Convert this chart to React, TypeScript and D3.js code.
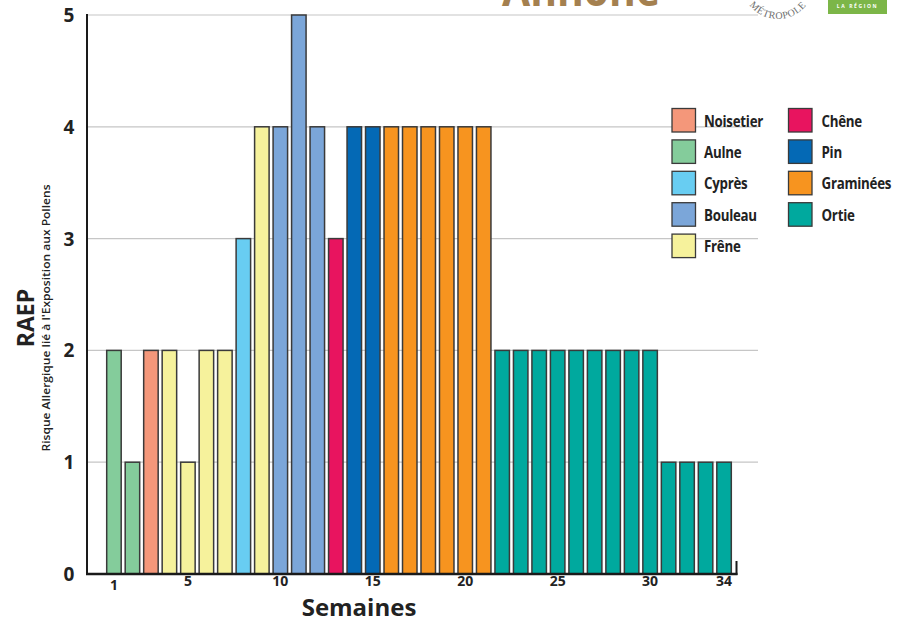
import React from "react";
import * as d3 from "d3";

const weeks = d3.range(1, 35);
const values = [2, 1, 2, 2, 1, 2, 2, 3, 4, 4, 5, 4, 3, 4, 4, 4, 4, 4, 4, 4, 4, 2, 2, 2, 2, 2, 2, 2, 2, 2, 1, 1, 1, 1];
const species = [
  "Aulne", "Aulne", "Noisetier", "Frêne", "Frêne", "Frêne", "Frêne", "Cyprès", "Frêne",
  "Bouleau", "Bouleau", "Bouleau", "Chêne", "Pin", "Pin",
  "Graminées", "Graminées", "Graminées", "Graminées", "Graminées", "Graminées",
  "Ortie", "Ortie", "Ortie", "Ortie", "Ortie", "Ortie", "Ortie", "Ortie", "Ortie",
  "Ortie", "Ortie", "Ortie", "Ortie",
];
const legendCol1 = ["Noisetier", "Aulne", "Cyprès", "Bouleau", "Frêne"];
const legendCol2 = ["Chêne", "Pin", "Graminées", "Ortie"];
const speciesColors: Record<string, string> = {
  Noisetier: "#f4977a",
  Aulne: "#84cc9b",
  Cyprès: "#68cdf2",
  Bouleau: "#7ba6d9",
  Frêne: "#f6f29c",
  Chêne: "#e8145f",
  Pin: "#0469b5",
  Graminées: "#f7941f",
  Ortie: "#00a99e",
};
const xTicks = [1, 5, 10, 15, 20, 25, 30, 34];
const yTicks = [0, 1, 2, 3, 4, 5];

const FONT = "'Open Sans', 'DejaVu Sans', sans-serif";

export default function App() {
  const x = d3.scaleBand<number>().domain(weeks).range([106.7, 731.3]).paddingInner(0.216).paddingOuter(0);
  const y = d3.scaleLinear().domain([0, 5]).range([574, 15]);
  const bw = x.bandwidth();

  return (
    <svg width={898} height={623} style={{ position: "absolute", left: 0, top: 0, background: "#fff" }} fontFamily={FONT}>
      <defs>
        <clipPath id="topclip">
          <rect x={0} y={0} width={898} height={6.5} />
        </clipPath>
        <path id="arcpath" d="M 742,-17 A 36 36 0 0 0 814,-17" />
      </defs>
      <rect x={0} y={0} width={898} height={623} fill="#fff" />

      {/* header fragments */}
      <g clipPath="url(#topclip)">
        <text x={502} y={5.5} fontSize={44} fontWeight={700} fill="#a4804f" textLength={158} lengthAdjust="spacingAndGlyphs">Annone</text>
      </g>
      <text fontSize={10} fill="#6e6e6e" letterSpacing={0.6} fontFamily="'Liberation Serif', serif">
        <textPath href="#arcpath" startOffset="50%" textAnchor="middle">MÉTROPOLE</textPath>
      </text>
      <rect x={828} y={-6} width={59} height={20} fill="#7cb648" />
      <text x={857.5} y={8} fontSize={5} fontWeight={700} fill="#fff" textAnchor="middle" letterSpacing={1.6}>LA RÉGION</text>

      {/* gridlines */}
      {yTicks.filter((t) => t > 0).map((t) => (
        <line key={t} x1={88} x2={758} y1={y(t)} y2={y(t)} stroke="#c6c6c6" strokeWidth={1.2} />
      ))}

      {/* bars */}
      {weeks.map((w, i) => (
        <rect
          key={w}
          x={x(w)}
          y={y(values[i])}
          width={bw}
          height={y(0) - y(values[i])}
          fill={speciesColors[species[i]]}
          stroke="#3a3a3a"
          strokeWidth={1.5}
        />
      ))}

      {/* axes */}
      <line x1={87} x2={87} y1={14} y2={575} stroke="#1a1a1a" strokeWidth={2} />
      <line x1={86} x2={737.5} y1={574} y2={574} stroke="#1a1a1a" strokeWidth={2.5} />
      <line x1={736.5} x2={736.5} y1={561} y2={575} stroke="#1a1a1a" strokeWidth={2} />

      {/* y tick labels */}
      {yTicks.map((t) => (
        <text key={t} x={69} y={y(t) + 7} fontSize={19} fontWeight={700} fill="#222" textAnchor="middle">{t}</text>
      ))}

      {/* x tick labels */}
      {xTicks.map((t) => (
        <text key={t} x={(x(t) as number) + bw / 2} y={t === 1 ? 590 : 586} fontSize={14} fontWeight={700} fill="#222" textAnchor="middle">{t}</text>
      ))}

      {/* axis titles */}
      <text x={359} y={616} fontSize={24} fontWeight={700} fill="#222" textAnchor="middle">Semaines</text>
      <text transform="translate(34,318) rotate(-90)" fontSize={23} fontWeight={700} fill="#222" textAnchor="middle">RAEP</text>
      <text transform="translate(50,318) rotate(-90)" fontSize={11.5} fontWeight={600} fill="#222" textAnchor="middle" textLength={267} lengthAdjust="spacingAndGlyphs">Risque Allergique lié à l'Exposition aux Pollens</text>

      {/* legend */}
      {legendCol1.map((s, i) => (
        <g key={s} transform={`translate(672,${108.5 + i * 31.4})`}>
          <rect x={0} y={0} width={23.5} height={23.5} fill={speciesColors[s]} stroke="#3a3a3a" strokeWidth={1.3} />
          <text transform="translate(32,18) scale(0.86,1)" fontSize={15.5} fontWeight={700} fill="#222" letterSpacing={-0.3}>{s}</text>
        </g>
      ))}
      {legendCol2.map((s, i) => (
        <g key={s} transform={`translate(788.5,${108.5 + i * 31.4})`}>
          <rect x={0} y={0} width={23.5} height={23.5} fill={speciesColors[s]} stroke="#3a3a3a" strokeWidth={1.3} />
          <text transform="translate(33,18) scale(0.86,1)" fontSize={15.5} fontWeight={700} fill="#222" letterSpacing={-0.3}>{s}</text>
        </g>
      ))}
    </svg>
  );
}
